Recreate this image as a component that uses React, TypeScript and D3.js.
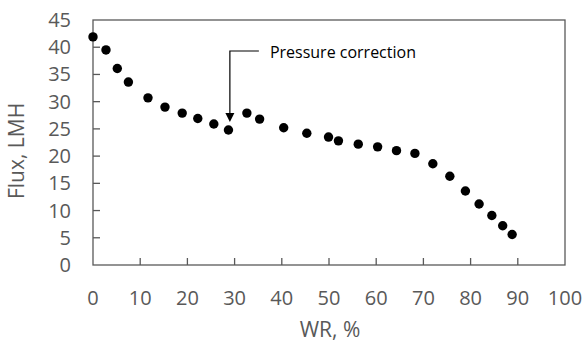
import React from "react";
import * as d3 from "d3";

const wr = [0, 2.75, 5.15, 7.5, 11.65, 15.25, 18.9, 22.2, 25.6, 28.7, 32.6, 35.3, 40.4, 45.3, 49.9, 52.0, 56.2, 60.3, 64.3, 68.2, 72.0, 75.6, 78.9, 81.8, 84.5, 86.8, 88.8];
const flux = [41.9, 39.5, 36.1, 33.6, 30.7, 29.0, 27.9, 26.9, 25.9, 24.8, 27.9, 26.8, 25.2, 24.2, 23.5, 22.8, 22.2, 21.7, 21.0, 20.5, 18.6, 16.3, 13.6, 11.2, 9.1, 7.2, 5.6];
const xTicks = [0, 10, 20, 30, 40, 50, 60, 70, 80, 90, 100];
const yTicks = [0, 5, 10, 15, 20, 25, 30, 35, 40, 45];
const annotation = "Pressure correction";
const annotX = 29;
const annotY = 25;

const W = 587;
const H = 344;
const m = { left: 93, right: 22, top: 20, bottom: 79 };
const gray = "#595959";
const font = "'Open Sans', sans-serif";

export default function App() {
  const x = d3.scaleLinear().domain([0, 100]).range([m.left, W - m.right]);
  const y = d3.scaleLinear().domain([0, 45]).range([H - m.bottom, m.top]);
  const ax = x(annotX);
  const tipY = y(annotY) - 7;
  const lineY = 51;
  return (
    <svg width={W} height={H} style={{ position: "absolute", left: 0, top: 0, background: "#fff" }}>
      <rect x={x(0)} y={y(45)} width={x(100) - x(0)} height={y(0) - y(45)} fill="none" stroke={gray} strokeWidth={1.3} />
      {xTicks.slice(1, -1).map((t) => (
        <line key={"xt" + t} x1={x(t)} x2={x(t)} y1={y(0)} y2={y(0) - 7} stroke={gray} strokeWidth={1.3} />
      ))}
      {yTicks.slice(1, -1).map((t) => (
        <line key={"yt" + t} x1={x(0)} x2={x(0) + 7} y1={y(t)} y2={y(t)} stroke={gray} strokeWidth={1.3} />
      ))}
      {xTicks.map((t) => (
        <text key={"xl" + t} x={x(t)} y={305} textAnchor="middle" fontFamily={font} fontSize={20} fill={gray}>{t}</text>
      ))}
      {yTicks.map((t) => (
        <text key={"yl" + t} x={71} y={y(t) + 7} textAnchor="end" fontFamily={font} fontSize={20} fill={gray}>{t}</text>
      ))}
      <text x={330} y={337} textAnchor="middle" fontFamily={font} fontSize={21} fill={gray}>WR, %</text>
      <text transform={`translate(24,${151}) rotate(-90)`} textAnchor="middle" fontFamily={font} fontSize={21} fill={gray}>Flux, LMH</text>
      {wr.map((v, i) => (
        <circle key={i} cx={x(v)} cy={y(flux[i])} r={4.7} fill="#000" />
      ))}
      <path d={`M${ax + 29},${lineY}H${ax}V${tipY - 8}`} fill="none" stroke="#000" strokeWidth={1.2} />
      <path d={`M${ax - 4.5},${tipY - 9}L${ax + 4.5},${tipY - 9}L${ax},${tipY}Z`} fill="#000" />
      <text x={ax + 40} y={58} fontFamily={font} fontSize={16} fill="#000">{annotation}</text>
    </svg>
  );
}
